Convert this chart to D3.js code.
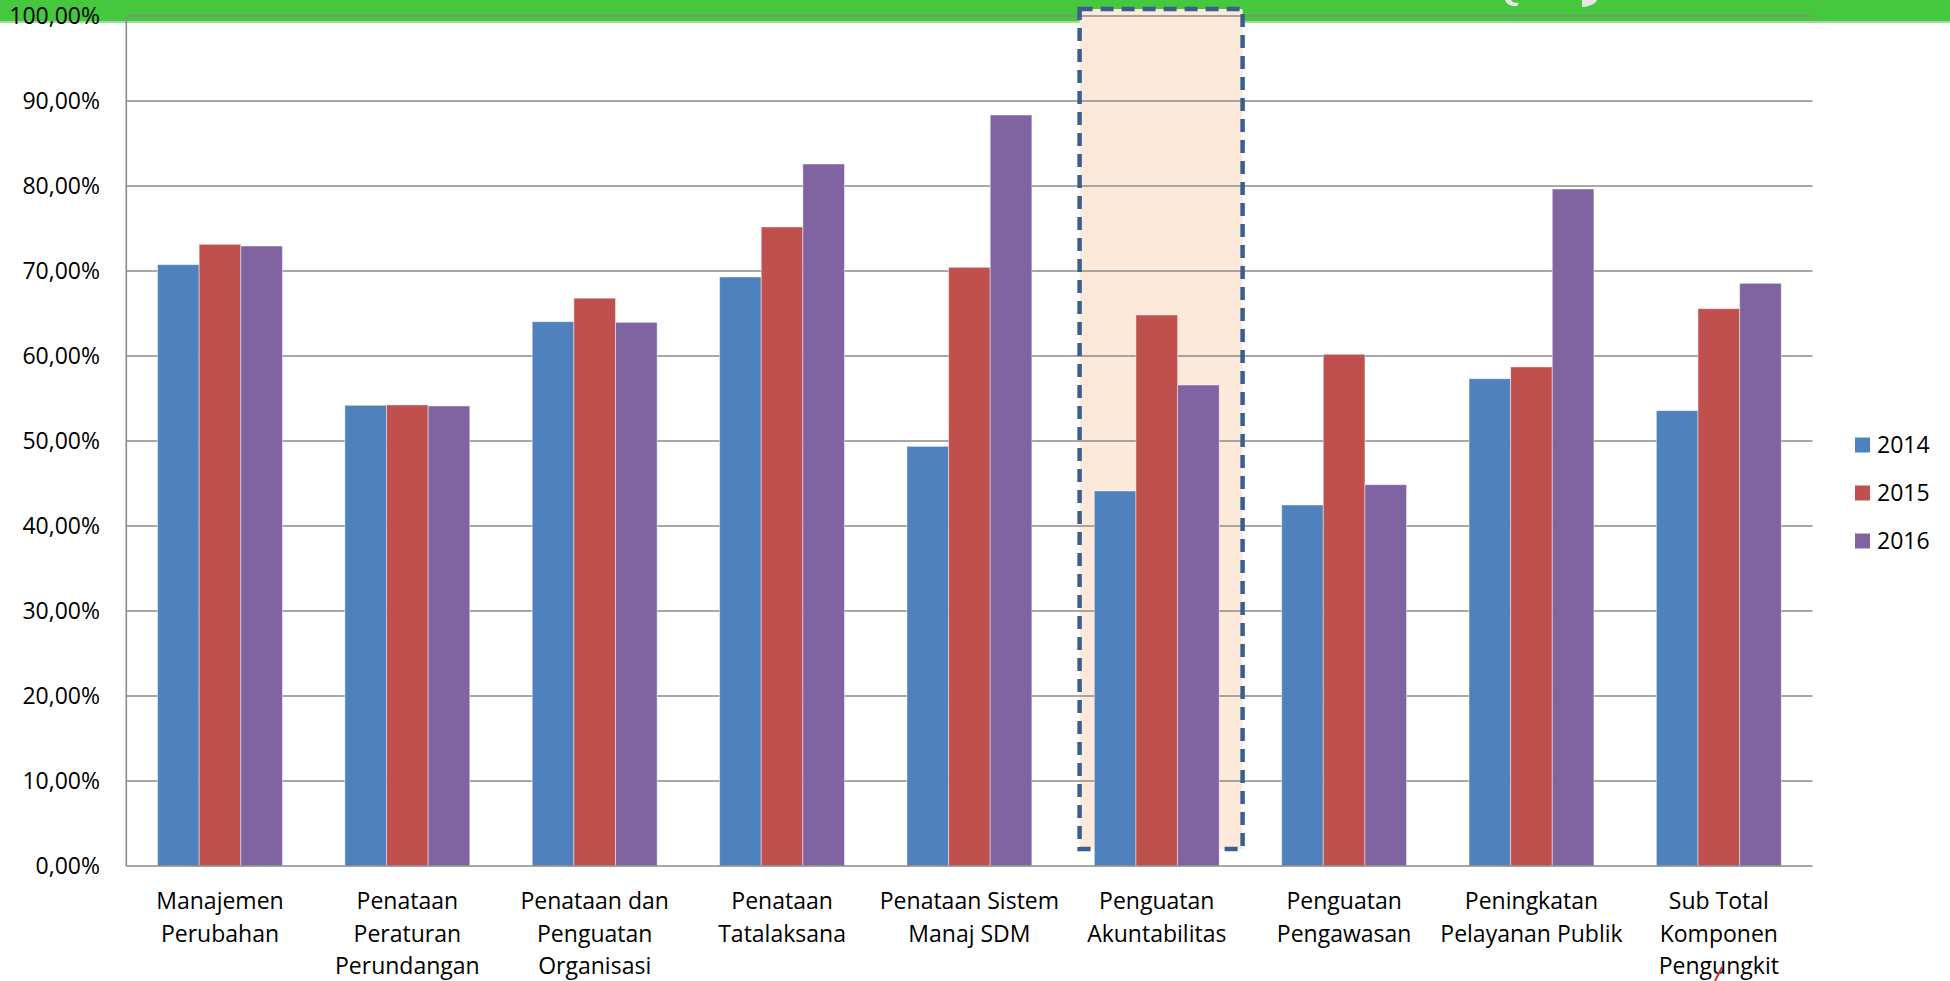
<!DOCTYPE html>
<html>
<head>
<meta charset="utf-8">
<script src="https://cdn.jsdelivr.net/npm/d3@7"></script>
<style>
  html, body { margin: 0; padding: 0; background: #ffffff; }
  svg { display: block; }
  text { font-family: "Open Sans", "Noto Sans", sans-serif; fill: #000; }
</style>
</head>
<body>
<svg id="chart" width="1950" height="981"></svg>
<script>
// Komponen pengungkit: capaian 2014 - 2016
const categories = [
  "Manajemen\nPerubahan",
  "Penataan\nPeraturan\nPerundangan",
  "Penataan dan\nPenguatan\nOrganisasi",
  "Penataan\nTatalaksana",
  "Penataan Sistem\nManaj SDM",
  "Penguatan\nAkuntabilitas",
  "Penguatan\nPengawasan",
  "Peningkatan\nPelayanan Publik",
  "Sub Total\nKomponen\nPengungkit"
];
const seriesNames = ["2014", "2015", "2016"];
const values2014 = [0.7075, 0.5420, 0.6404, 0.6930, 0.4937, 0.4412, 0.4247, 0.5733, 0.5357];
const values2015 = [0.7314, 0.5424, 0.6680, 0.7518, 0.7043, 0.6482, 0.6020, 0.5871, 0.6557];
const values2016 = [0.7294, 0.5412, 0.6396, 0.8259, 0.8835, 0.5659, 0.4486, 0.7965, 0.6855];
const yTicks = [0, 0.1, 0.2, 0.3, 0.4, 0.5, 0.6, 0.7, 0.8, 0.9, 1.0];
const colors = ["#4f81bd", "#c0504d", "#8064a2"];
const highlighted = "Penguatan\nAkuntabilitas";

const series = [values2014, values2015, values2016];

const svg = d3.select("#chart");

const plot = { left: 126.3, right: 1812.5, top: 16, bottom: 866 };

const x0 = d3.scaleBand()
  .domain(categories)
  .range([plot.left, plot.right])
  .paddingInner(1 / 3)
  .paddingOuter(1 / 6);

const x1 = d3.scaleBand()
  .domain(seriesNames)
  .range([0, x0.bandwidth()])
  .padding(0);

const y = d3.scaleLinear().domain([0, 1]).range([plot.bottom, plot.top]);

const fmt = v => d3.format(".2f")(v * 100).replace(".", ",") + "%";

// green header strip
svg.append("rect").attr("x", 0).attr("y", 0).attr("width", 1950).attr("height", 21)
  .attr("fill", "#45c83d");
svg.append("rect").attr("x", 0).attr("y", 21).attr("width", 1950).attr("height", 2)
  .attr("fill", "#9edc97");
// small toolbar glyphs on the strip
svg.append("path").attr("d", "M1505,0 Q1508,7 1517,6 L1519,3 Q1512,3 1511,0 Z").attr("fill", "#e6e6e6");
svg.append("path").attr("d", "M1582,0 L1582,7 Q1590,7 1596,2 L1597,0 Z").attr("fill", "#e6e6e6");

// highlight box behind the selected group
const hx = x0(highlighted);
const box = {
  x: hx - 14.7,
  y: 9,
  w: 163,
  h: 840
};
svg.append("rect")
  .attr("x", box.x).attr("y", box.y).attr("width", box.w).attr("height", box.h)
  .attr("fill", "#fde9d9");

// gridlines
svg.append("g").selectAll("line")
  .data(yTicks.filter(t => t > 0))
  .join("line")
  .attr("x1", plot.left).attr("x2", plot.right)
  .attr("y1", d => y(d)).attr("y2", d => y(d))
  .attr("stroke", "#8a8a8a").attr("stroke-width", 1.6);

// dashed outline of the highlight box
svg.append("rect")
  .attr("x", box.x).attr("y", box.y).attr("width", box.w).attr("height", box.h)
  .attr("fill", "none")
  .attr("stroke", "#3a5f8e").attr("stroke-width", 4.5)
  .attr("stroke-dasharray", "13 8");

// bars
const groups = svg.append("g").selectAll("g")
  .data(categories)
  .join("g")
  .attr("transform", d => `translate(${x0(d)},0)`);

groups.selectAll("rect")
  .data((d, i) => seriesNames.map((s, k) => ({ s, k, v: series[k][i] })))
  .join("rect")
  .attr("x", d => x1(d.s))
  .attr("y", d => y(d.v))
  .attr("width", x1.bandwidth())
  .attr("height", d => y(0) - y(d.v))
  .attr("fill", d => colors[d.k])
  .attr("stroke", "rgba(255,255,255,0.45)")
  .attr("stroke-width", 1);

// axis lines
svg.append("line")
  .attr("x1", plot.left).attr("x2", plot.left)
  .attr("y1", plot.top).attr("y2", plot.bottom)
  .attr("stroke", "#8a8a8a").attr("stroke-width", 1.6);
svg.append("line")
  .attr("x1", plot.left).attr("x2", plot.right)
  .attr("y1", plot.bottom).attr("y2", plot.bottom)
  .attr("stroke", "#8a8a8a").attr("stroke-width", 1.6);

// y tick labels
svg.append("g").selectAll("text")
  .data(yTicks)
  .join("text")
  .attr("x", 100)
  .attr("y", d => y(d))
  .attr("dy", "0.36em")
  .attr("text-anchor", "end")
  .attr("font-size", 23)
  .text(fmt);

// category labels
svg.append("g").selectAll("text")
  .data(categories)
  .join("text")
  .attr("text-anchor", "middle")
  .attr("font-size", 23)
  .attr("transform", d => `translate(${x0(d) + x0.bandwidth() / 2},0)`)
  .each(function (d) {
    const t = d3.select(this);
    d.split("\n").forEach((line, i) => {
      t.append("tspan").attr("x", 0).attr("y", 909 + i * 32.5).text(line);
    });
  });

// legend
const legend = svg.append("g").selectAll("g")
  .data(seriesNames)
  .join("g")
  .attr("transform", (d, i) => `translate(1855,${445 + i * 48})`);
legend.append("rect")
  .attr("x", 0).attr("y", -7.5).attr("width", 15).attr("height", 15)
  .attr("fill", (d, i) => colors[i]);
legend.append("text")
  .attr("x", 22).attr("y", 0).attr("dy", "0.36em")
  .attr("font-size", 23)
  .text(d => d);

// small red pen mark near the last label
svg.append("path").attr("d", "M1715,981 L1722,967")
  .attr("stroke", "#d0362e").attr("stroke-width", 2).attr("fill", "none");
</script>
</body>
</html>
